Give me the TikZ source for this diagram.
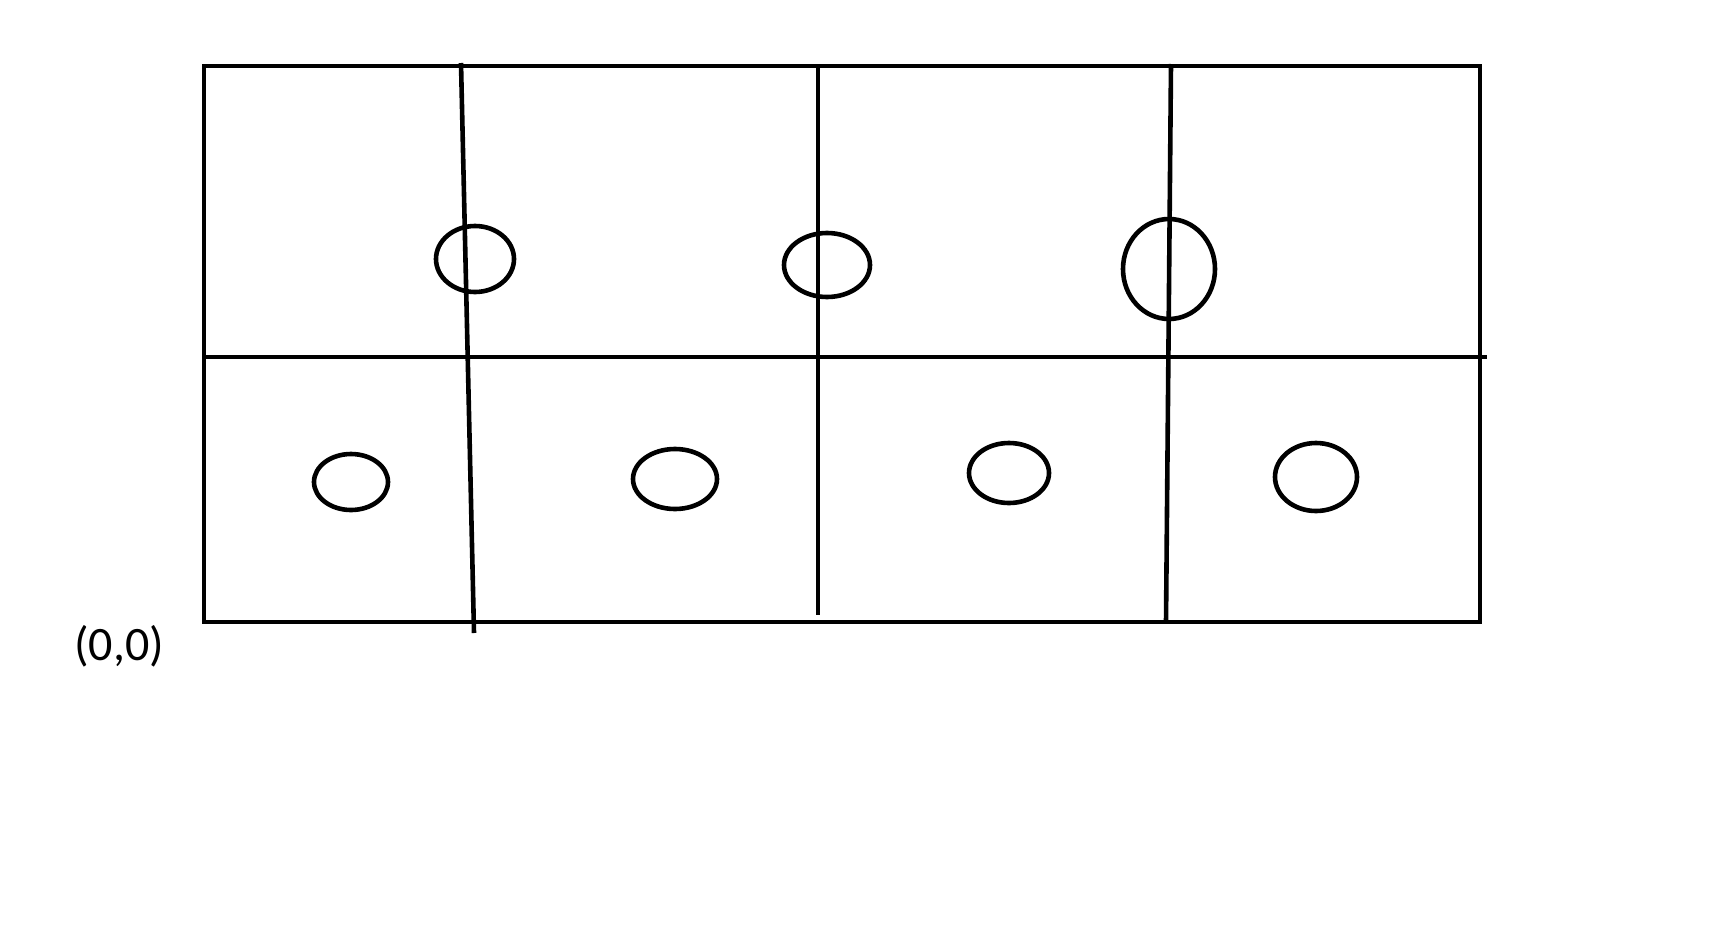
\documentclass[tikz,border=0pt]{standalone}
\usepackage{fontspec}
\setmainfont{Carlito}
\begin{document}
\begin{tikzpicture}[x=0.5pt,y=-0.5pt,
  ln/.style={line width=2.3pt,black},
  ring/.style={line width=2.3pt,black}]
\useasboundingbox (0,0) rectangle (1729,926);
\draw[ln] (204,66) rectangle (1480,622);
\draw[ln] (204,357) -- (1487,357);
\draw[ln] (461,63) -- (474,633);
\draw[ln] (818,68) -- (818,615);
\draw[ln] (1171,64) -- (1166,622);
\draw[ring] (475,259) ellipse [x radius=39, y radius=33];
\draw[ring] (827,265) ellipse [x radius=43, y radius=32];
\draw[ring] (1169,269) ellipse [x radius=46, y radius=50];
\draw[ring] (351,482) ellipse [x radius=37, y radius=28];
\draw[ring] (675,479) ellipse [x radius=42, y radius=30];
\draw[ring] (1009,473) ellipse [x radius=40, y radius=30];
\draw[ring] (1316,477) ellipse [x radius=41, y radius=34];
\node[font=\fontsize{24}{28}\selectfont, inner sep=0pt] (origin) at (119,646) {(0,0)};
\end{tikzpicture}
\end{document}
